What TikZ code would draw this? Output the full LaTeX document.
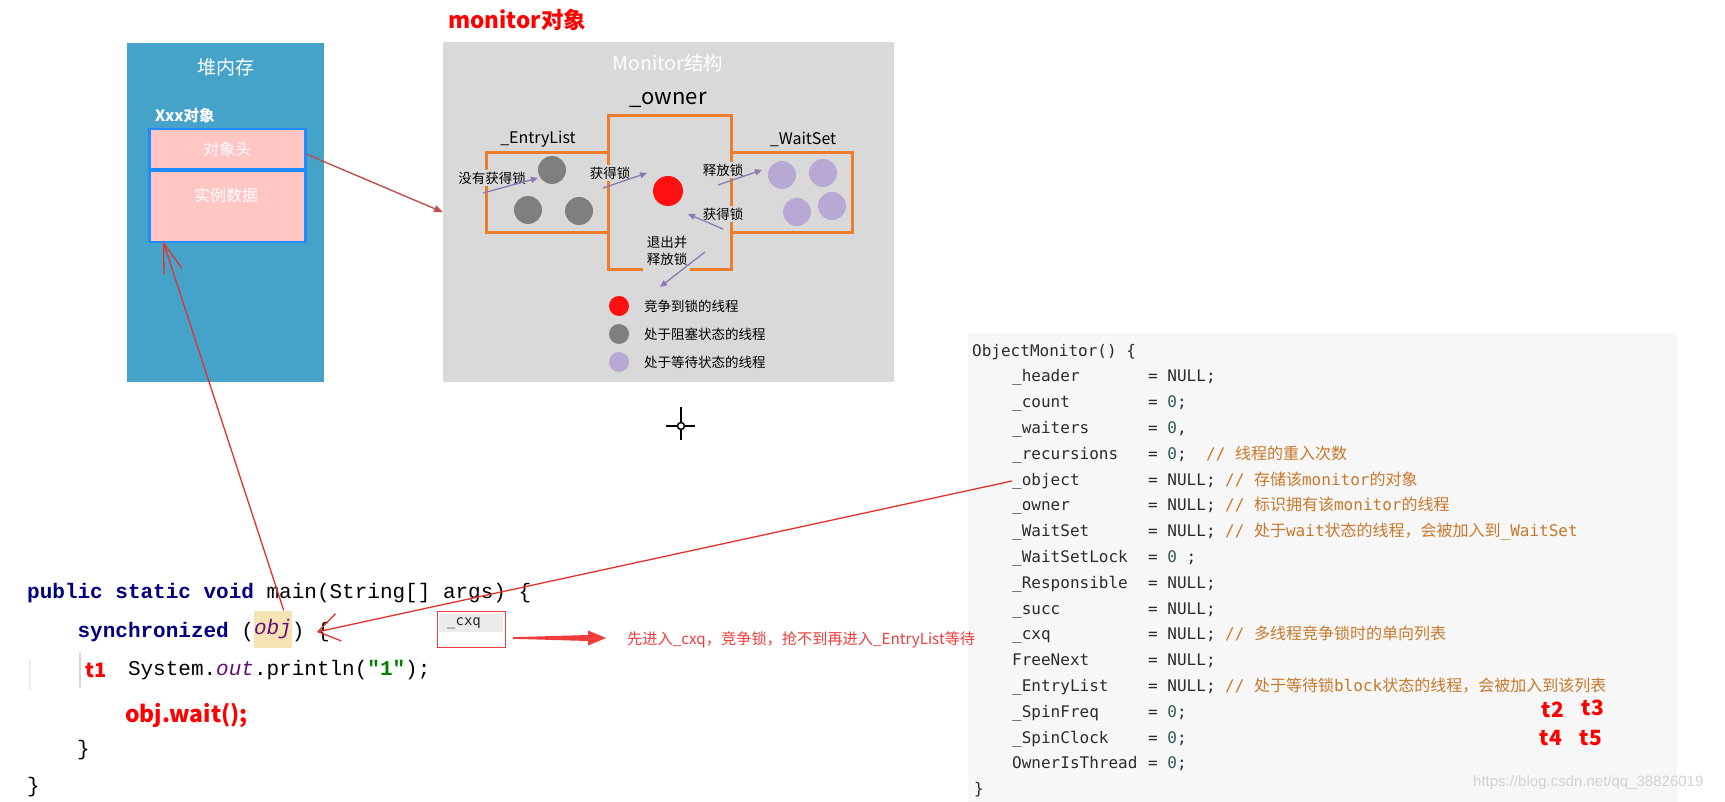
\documentclass[tikz,border=0pt]{standalone}
\usepackage{fontspec}
\usetikzlibrary{arrows.meta,calc}
\newfontfamily\cjk{Noto Sans CJK SC}
\newfontfamily\jmono{Liberation Mono}
\newfontfamily\cmono{DejaVu Sans Mono}
\newfontfamily\lsans{Liberation Sans}
\newcommand\fsz[1]{\fontsize{#1}{#1}\selectfont}
\definecolor{heapblue}{HTML}{45A3C9}
\definecolor{pinkbox}{HTML}{FFC6C4}
\definecolor{bordblue}{HTML}{1F8BFF}
\definecolor{mongray}{HTML}{D9D9D9}
\definecolor{orng}{HTML}{EE7D2B}
\definecolor{purpa}{HTML}{8C78B4}
\definecolor{ballgray}{HTML}{7F7F7F}
\definecolor{ballred}{HTML}{FF1010}
\definecolor{ballpur}{HTML}{B8A9D4}
\definecolor{arrbrown}{HTML}{C0504D}
\definecolor{linered}{HTML}{E5322D}
\definecolor{codebg}{HTML}{F7F7F7}
\definecolor{codefg}{HTML}{2B2B2B}
\definecolor{numc}{HTML}{2F5A55}
\definecolor{cmt}{HTML}{C8782A}
\definecolor{navy}{HTML}{000080}
\definecolor{jpurple}{HTML}{660E7A}
\definecolor{jgreen}{HTML}{008000}
\definecolor{hl}{HTML}{F6E3B4}
\definecolor{wm}{HTML}{D2D2D2}
\definecolor{notered}{HTML}{F03C3C}
\definecolor{guide}{HTML}{D8D8D8}
\tikzset{
  ball/.style={circle, inner sep=0pt, draw=none},
  lbl/.style={font=\cjk\fsz{13.5}, text=black, fill=mongray, inner xsep=1pt, inner ysep=2pt},
  leg/.style={font=\cjk\fsz{13.5}, text=black, anchor=west, inner sep=0pt},
  parr/.style={draw=purpa, line width=1.3pt, -{Triangle[length=7pt,width=6pt]}},
  orline/.style={draw=orng, line width=3pt},
  codetxt/.style={anchor=west, inner sep=0pt, font=\cmono\fsz{16}, text=codefg, text height=12pt, text depth=4pt},
  cmtxt/.style={anchor=west, inner sep=0pt, font=\cmono\fsz{16}, text=cmt, text height=12pt, text depth=4pt},
  jcode/.style={anchor=west, inner sep=0pt, font=\jmono\fsz{21}, text=black, text height=15pt, text depth=5pt},
  tlab/.style={font=\cjk\bfseries\fsz{21}, text=red, inner sep=0pt},
}
\begin{document}
\begin{tikzpicture}[x=1pt,y=-1pt]
\useasboundingbox[fill=white] (0,0) rectangle (1725,802);

% ---------------- heap panel
\node[fill=heapblue, minimum width=197pt, minimum height=339pt, inner sep=0pt, anchor=north west] (heap) at (127,43) {};
\node[font=\cjk\fsz{19}, text=white, inner sep=0pt] (heapt) at (226,67) {堆内存};
\node[font=\cjk\bfseries\fsz{15.5}, text=white, inner sep=0pt, anchor=west] (xxx) at (155,116) {Xxx对象};
\node[fill=pinkbox, draw=bordblue, line width=2.5pt, minimum width=156pt, minimum height=40pt, inner sep=0pt, anchor=north west, font=\cjk\fsz{16}, text=white] (hdr) at (148,128) {对象头};
\node[fill=pinkbox, draw=bordblue, line width=2.5pt, minimum width=156pt, minimum height=71pt, inner sep=0pt, anchor=north west] (dat) at (148,170) {};
\node[font=\cjk\fsz{16}, text=white, inner sep=0pt] (datt) at (226,195) {实例数据};
\coordinate (datin) at (163,241);

% ---------------- monitor panel
\node[font=\cjk\bfseries\fsz{22.5}, text=red, inner sep=0pt, anchor=west] (montitle) at (448,20) {monitor对象};
\node[fill=mongray, minimum width=451pt, minimum height=340pt, inner sep=0pt, anchor=north west] (mon) at (443,42) {};
\node[font=\cjk\fsz{19.5}, text=white, inner sep=0pt] (monst) at (668,63) {Monitor结构};
\node[font=\cjk\fsz{22}, text=black, inner sep=0pt] (ownert) at (668,100) {\_owner};
\node[font=\cjk\fsz{16}, text=black, inner sep=0pt] (entt) at (538,139) {\_EntryList};
\node[font=\cjk\fsz{16}, text=black, inner sep=0pt] (waitt) at (803,139) {\_WaitSet};

% orange structure
\draw[orline] (608,153) -- (486,153) -- (486,233) -- (608,233);
\draw[orline] (731,153) -- (852,153) -- (852,233) -- (731,233);
\draw[orline] (643,270) -- (608,270) -- (608,116) -- (731,116) -- (731,270) -- (690,270);

% threads
\node[ball, fill=ballgray, minimum size=28pt] (g1) at (552,170) {};
\node[ball, fill=ballgray, minimum size=28pt] (g2) at (528,210) {};
\node[ball, fill=ballgray, minimum size=28pt] (g3) at (579,211) {};
\node[ball, fill=ballred, minimum size=30pt] (r1) at (668,191) {};
\node[ball, fill=ballpur, minimum size=28pt] (p1) at (782,175) {};
\node[ball, fill=ballpur, minimum size=28pt] (p2) at (823,173) {};
\node[ball, fill=ballpur, minimum size=28pt] (p3) at (797,212) {};
\node[ball, fill=ballpur, minimum size=28pt] (p4) at (832,206) {};

% labels
\node[lbl] (l_noget) at (492,178) {没有获得锁};
\node[lbl] (l_get1) at (610,173) {获得锁};
\node[lbl] (l_rel) at (723,170) {释放锁};
\node[lbl] (l_get2) at (723,214) {获得锁};
\node[align=center, inner sep=0pt, text=black, font=\cjk\fontsize{13.5}{17}\selectfont] (l_exit) at (667,251) {退出并\\释放锁};

% purple arrows
\coordinate (a1s) at (483,193); \coordinate (a1e) at (538,178);
\coordinate (a2s) at (603,188); \coordinate (a2e) at (647,173);
\coordinate (a3s) at (718,185); \coordinate (a3e) at (762,170);
\coordinate (a4s) at (723,229); \coordinate (a4e) at (688,214);
\coordinate (a5s) at (705,252); \coordinate (a5e) at (660,287);
\draw[parr] (a1s) -- (a1e);
\draw[parr] (a2s) -- (a2e);
\draw[parr] (a3s) -- (a3e);
\draw[parr] (a4s) -- (a4e);
\draw[parr] (a5s) -- (a5e);

% legend
\node[ball, fill=ballred, minimum size=20pt] (lg1) at (619,306) {};
\node[ball, fill=ballgray, minimum size=20pt] (lg2) at (619,334) {};
\node[ball, fill=ballpur, minimum size=20pt] (lg3) at (619,362) {};
\node[leg] (lt1) at (644,306) {竞争到锁的线程};
\node[leg] (lt2) at (644,334) {处于阻塞状态的线程};
\node[leg] (lt3) at (644,362) {处于等待状态的线程};

% header -> monitor arrow
\draw[arrbrown, line width=1.4pt, -{Triangle[length=9pt,width=7pt]}] ([yshift=-5pt]hdr.east) -- (mon.west);

% crosshair cursor
\coordinate (cur) at (681,426);
\draw[line width=2pt] (666,426) -- (677,426) (685,426) -- (695,426) (681,407) -- (681,422) (681,430) -- (681,440);
\draw[line width=1.5pt, fill=white] (cur) circle (3.5pt);

% ---------------- code panel (right)
\node[fill=codebg, minimum width=709pt, minimum height=469pt, inner sep=0pt, anchor=north west] (codep) at (968,333) {};
\node[codetxt] (c0) at (972,352) {ObjectMonitor() \{};
\node[codetxt] (n1) at (1012,377.8) {\_header};
\node[codetxt] (v1) at (1148,377.8) {= NULL;};
\node[codetxt] (n2) at (1012,403.6) {\_count};
\node[codetxt] (v2) at (1148,403.6) {= {\color{numc}0};};
\node[codetxt] (n3) at (1012,429.4) {\_waiters};
\node[codetxt] (v3) at (1148,429.4) {= {\color{numc}0},};
\node[codetxt] (n4) at (1012,455.2) {\_recursions};
\node[codetxt] (v4) at (1148,455.2) {= {\color{numc}0};};
\node[cmtxt] (m4) at (1206,455.2) {// {\cjk 线程的重入次数}};
\node[codetxt] (n5) at (1012,481) {\_object};
\node[codetxt] (v5) at (1148,481) {= NULL;};
\node[cmtxt] (m5) at (1225,481) {// {\cjk 存储该}monitor{\cjk 的对象}};
\node[codetxt] (n6) at (1012,506.8) {\_owner};
\node[codetxt] (v6) at (1148,506.8) {= NULL;};
\node[cmtxt] (m6) at (1225,506.8) {// {\cjk 标识拥有该}monitor{\cjk 的线程}};
\node[codetxt] (n7) at (1012,532.6) {\_WaitSet};
\node[codetxt] (v7) at (1148,532.6) {= NULL;};
\node[cmtxt] (m7) at (1225,532.6) {// {\cjk 处于}wait{\cjk 状态的线程，会被加入到}\_WaitSet};
\node[codetxt] (n8) at (1012,558.4) {\_WaitSetLock};
\node[codetxt] (v8) at (1148,558.4) {= {\color{numc}0} ;};
\node[codetxt] (n9) at (1012,584.2) {\_Responsible};
\node[codetxt] (v9) at (1148,584.2) {= NULL;};
\node[codetxt] (n10) at (1012,610) {\_succ};
\node[codetxt] (v10) at (1148,610) {= NULL;};
\node[codetxt] (n11) at (1012,635.8) {\_cxq};
\node[codetxt] (v11) at (1148,635.8) {= NULL;};
\node[cmtxt] (m11) at (1225,635.8) {// {\cjk 多线程竞争锁时的单向列表}};
\node[codetxt] (n12) at (1012,661.6) {FreeNext};
\node[codetxt] (v12) at (1148,661.6) {= NULL;};
\node[codetxt] (n13) at (1012,687.4) {\_EntryList};
\node[codetxt] (v13) at (1148,687.4) {= NULL;};
\node[cmtxt] (m13) at (1225,687.4) {// {\cjk 处于等待锁}block{\cjk 状态的线程，会被加入到该列表}};
\node[codetxt] (n14) at (1012,713.2) {\_SpinFreq};
\node[codetxt] (v14) at (1148,713.2) {= {\color{numc}0};};
\node[codetxt] (n15) at (1012,739) {\_SpinClock};
\node[codetxt] (v15) at (1148,739) {= {\color{numc}0};};
\node[codetxt] (n16) at (1012,764.8) {OwnerIsThread};
\node[codetxt] (v16) at (1148,764.8) {= {\color{numc}0};};
\node[codetxt] (c17) at (974,790.6) {\}};

\node[tlab] (t2) at (1553,710) {t2};
\node[tlab] (t3) at (1593,708) {t3};
\node[tlab] (t4) at (1551,738) {t4};
\node[tlab] (t5) at (1591,738) {t5};
\node[font=\lsans\fsz{15}, text=wm, inner sep=0pt, anchor=west] (wmark) at (1473,783) {https://blog.csdn.net/qq\_38826019};

% ---------------- java code (left)
\node[jcode] (l1a) at (27,593) {\bfseries\color{navy}public static void};
\node[jcode] (l1b) at (266.4,593) {main(String[] args) \{};
\node[jcode] (l2a) at (77.4,632) {\bfseries\color{navy}synchronized};
\node[jcode] (l2b) at (241.2,632) {(};
\node[jcode, fill=hl, minimum height=37pt, minimum width=37.8pt, text=jpurple] (objn) at (253.8,629) {\itshape obj};
\node[jcode] (l2c) at (291.6,632) {)};
\node[jcode] (lbr) at (316.8,632) {\{};
\draw[guide, line width=1.5pt] (80,653) -- (80,687);
\draw[guide!50, line width=1.5pt] (30,660) -- (30,690);
\node[font=\cjk\bfseries\fsz{20}, text=red, inner sep=0pt, anchor=west] (t1) at (85,670) {t1};
\node[jcode] (l3) at (127.8,670) {System.{\itshape\color{jpurple}out}.println({\bfseries\color{jgreen}"1"});};
\node[font=\cjk\bfseries\fsz{23}, text=red, inner sep=0pt, anchor=west] (l4) at (125,715) {obj.wait();};
\node[jcode] (l5) at (77,750) {\}};
\node[jcode] (l6) at (27,787) {\}};

% _cxq box and note
\node[draw=notered, line width=1pt, minimum width=68pt, minimum height=36pt, inner sep=0pt] (cxq) at (471,629) {};
\node[fill=black!8, anchor=west, text width=48pt, align=left, inner xsep=8pt, inner ysep=0pt, minimum height=18pt, font=\cmono\fsz{14}, text=codefg] (cxql) at (439,623) {\_cxq};
\node[font=\cjk\fsz{15.2}, text=notered, inner sep=0pt, anchor=west] (note) at (627,640) {先进入\_cxq，竞争锁，抢不到再进入\_EntryList等待};
\coordinate (cxa) at (513,638);
\coordinate (cxb) at (606,638);
\fill[notered] ($(cxa)+(0,-0.8)$) -- ($(cxb)+(-18,-3)$) -- ($(cxb)+(-18,-7.5)$) -- (cxb) -- ($(cxb)+(-18,7.5)$) -- ($(cxb)+(-18,3)$) -- ($(cxa)+(0,0.8)$) -- cycle;

% red connectors
\draw[linered, line width=1.3pt, -{Straight Barb[length=30pt,width=19pt,line width=1.3pt]}] (objn.60) -- (datin);
\draw[linered, line width=1.3pt, -{Straight Barb[length=21pt,width=28pt,line width=1.3pt]}] (n5.west) -- (lbr.west);
\end{tikzpicture}
\end{document}
